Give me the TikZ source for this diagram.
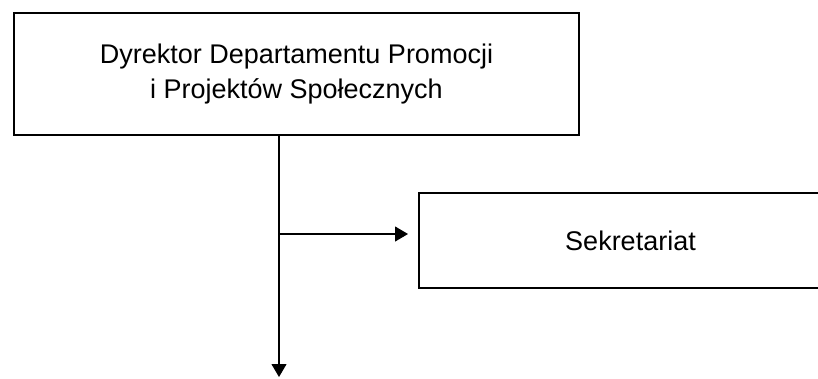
\documentclass[tikz,border=0pt]{standalone}
\usepackage{fontspec}
\setmainfont{Liberation Sans}
\usetikzlibrary{arrows.meta}
\begin{document}
\begin{tikzpicture}[x=1pt,y=-1pt,
  box/.style={draw, line width=2pt, rectangle, inner sep=0pt, align=center,
    font=\fontsize{27}{35}\selectfont},
  arr/.style={line width=1.1pt, -{Triangle[length=13pt,width=15pt]}}]
\useasboundingbox (0,0) rectangle (818,378);
\node[box, minimum width=565pt, minimum height=122pt, anchor=north west] (dir) at (13,12)
  {\raisebox{-5.5pt}{\begin{tabular}{@{}c@{}}Dyrektor Departamentu Promocji\\ i Projektów Społecznych\end{tabular}}};
\node[box, minimum width=423pt, minimum height=95pt, anchor=north west] (sek) at (418,192) {Sekretariat};
\coordinate (end) at (279,377);
\coordinate (j) at (279,234);
\draw[arr] (dir.south -| end) -- (end);
\draw[arr, shorten >=10pt] (j) -- (j -| sek.west);
\end{tikzpicture}
\end{document}
